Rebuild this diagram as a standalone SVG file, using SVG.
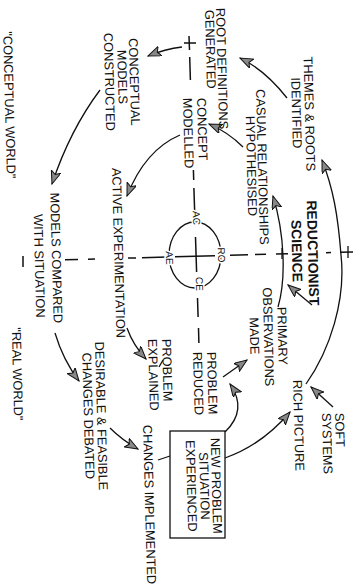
<svg xmlns="http://www.w3.org/2000/svg" width="359" height="587" viewBox="0 0 359 587">
<defs>
<style>
.t{font-family:"Liberation Sans",Arial,sans-serif;font-size:12.8px;fill:#111}
.b{font-family:"Liberation Sans",Arial,sans-serif;font-size:14px;font-weight:bold;fill:#111}
.s{font-family:"Liberation Sans",Arial,sans-serif;font-size:10px;fill:#111;stroke:#fff;stroke-width:3;paint-order:stroke}
.c{fill:none;stroke:#111;stroke-width:1.3}
.ax{fill:none;stroke:#111;stroke-width:1.5}
</style>
<marker id="ah" markerUnits="userSpaceOnUse" markerWidth="16" markerHeight="12" refX="13" refY="5" orient="auto">
<path d="M0,0 L13,5 L0,10 L3,5 Z" fill="#888" stroke="#111" stroke-width="1"/>
</marker>
</defs>
<rect width="359" height="587" fill="#fff"/>
<g id="axes">
<path class="ax" d="M189.0,36 L189.5,50 M189.7,57 L190.4,80 M193.4,170 L193.7,180 M193.9,188 L194.7,213 M195.5,237 L196.6,272 M197.5,298 L198.1,317 M198.5,328 L198.9,343"/>
<path class="ax" d="M23,256 L23,267 M65,259.8 L78,259.4 M88,259.2 L95,259 M128,258.1 L136,257.9 M142,257.7 L167,257 M175,256.8 L215,255.7 M230,255.3 L248,254.8 M255,254.6 L266,254.3 M276,254.1 L288,253.7 M326,252.7 L331,252.6 M340,252.3 L353,252"/>
<path class="c" d="M184,43 L196,43 M282,248 L282,259 M348,246 L348,258"/>
</g>
<g id="cycle">
<ellipse class="c" cx="195" cy="255" rx="26" ry="33"/>
<text class="s" transform="translate(193,218) rotate(88.5)" text-anchor="middle">AC</text>
<text class="s" transform="translate(218,255) rotate(88.5)" text-anchor="middle">RO</text>
<text class="s" transform="translate(196,284) rotate(88.5)" text-anchor="middle">CE</text>
<text class="s" transform="translate(166,258) rotate(88.5)" text-anchor="middle">AE</text>
</g>
<g id="connectors">
<path class="c" marker-end="url(#ah)" d="M306,384 C330,350 346,300 341,255 C338,215 333,188 322,160"/>
<path class="c" marker-end="url(#ah)" d="M287,98 Q265,70 240,58"/>
<path class="c" marker-end="url(#ah)" d="M182,47 Q165,49 148,56"/>
<path class="c" marker-end="url(#ah)" d="M100,90 Q70,130 52,184"/>
<path class="c" marker-end="url(#ah)" d="M55,333 Q63,360 79,381"/>
<path class="c" marker-end="url(#ah)" d="M110,428 Q122,440 138,449"/>
<path class="c" d="M158,460 L170,456"/>
<path class="c" marker-end="url(#ah)" d="M225,458 Q262,445 290,412"/>
<path class="c" marker-end="url(#ah)" d="M225,432 Q248,410 230,384"/>
<path class="c" marker-end="url(#ah)" d="M223,377 L247,360"/>
<path class="c" marker-end="url(#ah)" d="M278,307 C286,280 285,235 273,196"/>
<path class="c" marker-end="url(#ah)" d="M312,305 L288,285"/>
<path class="c" marker-end="url(#ah)" d="M333,407 L311,387"/>
<path class="c" marker-end="url(#ah)" d="M243,147 Q228,132 209,124"/>
<path class="c" marker-end="url(#ah)" d="M180,135 Q145,150 127,196"/>
<path class="c" marker-end="url(#ah)" d="M127,328 Q133,345 146,359"/>
<path class="c" d="M159,367 L163,360"/>
</g>
<g id="n-themes"><text class="t" text-anchor="middle" transform="translate(305,114) rotate(88.5)">THEMES &amp; ROOTS</text><text class="t" text-anchor="middle" transform="translate(292,113) rotate(88.5)">IDENTIFIED</text></g>
<g id="n-rootdef"><text class="t" transform="translate(216,8) rotate(88.5)">ROOT DEFINITIONS</text><text class="t" transform="translate(205,10) rotate(88.5)">GENERATED</text></g>
<g id="n-casual"><text class="t" text-anchor="middle" transform="translate(258,167) rotate(88.5)">CASUAL RELATIONSHIPS</text><text class="t" text-anchor="middle" transform="translate(247,166) rotate(88.5)">HYPOTHESISED</text></g>
<g id="n-concept"><text class="t" transform="translate(197,98) rotate(88.5)">CONCEPT</text><text class="t" transform="translate(183,98) rotate(88.5)">MODELLED</text></g>
<g id="n-conceptual"><text class="t" text-anchor="middle" transform="translate(130,82) rotate(88.5)">CONCEPTUAL</text><text class="t" text-anchor="middle" transform="translate(118,77) rotate(88.5)">MODELS</text><text class="t" text-anchor="middle" transform="translate(105,82) rotate(88.5)">CONSTRUCTED</text></g>
<g id="n-cworld"><text class="t" text-anchor="middle" transform="translate(5,105) rotate(88.5)">"CONCEPTUAL WORLD"</text></g>
<g id="n-active"><text class="t" transform="translate(112,168) rotate(88.5)">ACTIVE EXPERIMENTATION</text></g>
<g id="n-compared"><text class="t" text-anchor="middle" transform="translate(52,258) rotate(88.5)">MODELS COMPARED</text><text class="t" text-anchor="middle" transform="translate(35,266) rotate(88.5)">WITH SITUATION</text></g>
<g id="n-rworld"><text class="t" text-anchor="middle" transform="translate(13,374) rotate(88.5)">"REAL WORLD"</text></g>
<g id="n-desirable"><text class="t" text-anchor="middle" transform="translate(97,416) rotate(88.5)">DESIRABLE &amp; FEASIBLE</text><text class="t" text-anchor="middle" transform="translate(84,416) rotate(88.5)">CHANGES DEBATED</text></g>
<g id="n-implemented"><text class="t" transform="translate(143,425) rotate(88.5)">CHANGES IMPLEMENTED</text></g>
<g id="n-explained"><text class="t" transform="translate(162,339) rotate(88.5)">PROBLEM</text><text class="t" transform="translate(148,339) rotate(88.5)">EXPLAINED</text></g>
<g id="n-reduced"><text class="t" transform="translate(207,352) rotate(88.5)">PROBLEM</text><text class="t" transform="translate(193,352) rotate(88.5)">REDUCED</text></g>
<g id="n-newproblem"><rect x="170" y="431" width="55" height="107" fill="none" stroke="#111" stroke-width="1.3"/><text class="t" text-anchor="middle" transform="translate(212,486) rotate(88.5)">NEW PROBLEM</text><text class="t" text-anchor="middle" transform="translate(200,486) rotate(88.5)">SITUATION</text><text class="t" text-anchor="middle" transform="translate(187,486) rotate(88.5)">EXPERIENCED</text></g>
<g id="n-primary"><text class="t" text-anchor="middle" transform="translate(278,336) rotate(88.5)">PRIMARY</text><text class="t" text-anchor="middle" transform="translate(264,337) rotate(88.5)">OBSERVATIONS</text><text class="t" text-anchor="middle" transform="translate(250,336) rotate(88.5)">MADE</text></g>
<g id="n-rich"><text class="t" transform="translate(293,380) rotate(88.5)">RICH PICTURE</text></g>
<g id="n-soft"><text class="t" transform="translate(335,413) rotate(88.5)">SOFT</text><text class="t" transform="translate(322,413) rotate(88.5)">SYSTEMS</text></g>
<g id="n-reductionist"><text class="b" text-anchor="middle" transform="translate(308,253) rotate(88.5)">REDUCTIONIST</text><text class="b" text-anchor="middle" transform="translate(292,251) rotate(88.5)">SCIENCE</text></g>
</svg>
